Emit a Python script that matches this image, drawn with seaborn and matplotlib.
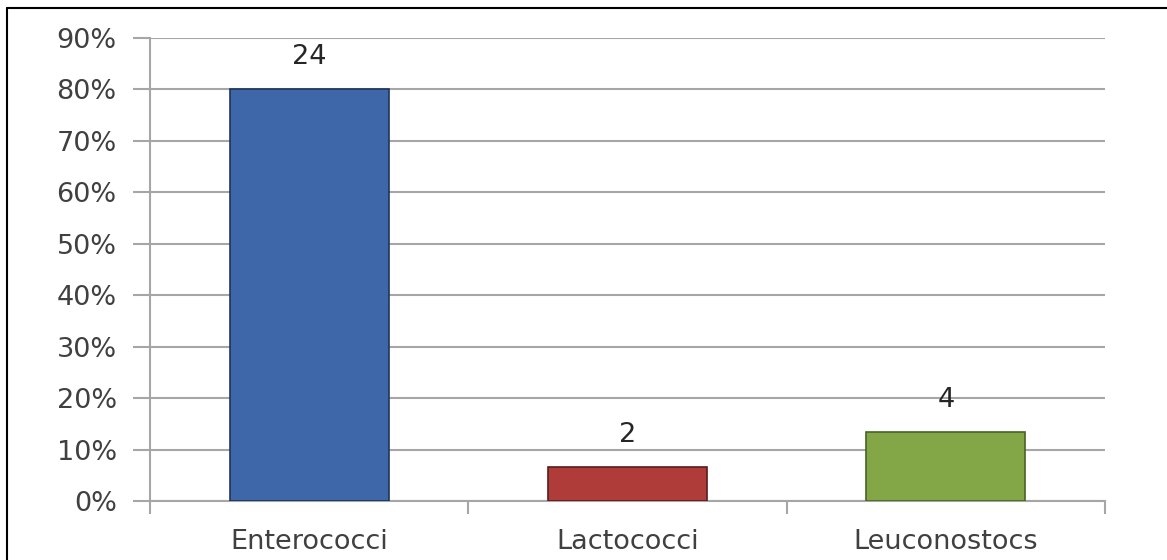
import matplotlib
matplotlib.use("Agg")
import matplotlib.pyplot as plt
import seaborn as sns
import pandas as pd
from matplotlib.ticker import FuncFormatter, FixedLocator
from matplotlib.lines import Line2D

# Isolate counts per genus
categories = ["Enterococci", "Lactococci", "Leuconostocs"]
counts = [24, 2, 4]
bar_colors = ["#3D67A8", "#B03C3A", "#83A646"]
edge_colors = ["#1F3558", "#5A1C1C", "#4A6226"]
yticks = [0, 10, 20, 30, 40, 50, 60, 70, 80, 90]

total = sum(counts)
df = pd.DataFrame({
    "genus": categories,
    "count": counts,
    "pct": [c / total * 100 for c in counts],
})

sns.set_theme(style="white")
plt.rcParams["font.family"] = ["DejaVu Sans"]

fig = plt.figure(figsize=(11.67, 5.6), dpi=100)
ax = fig.add_axes([150 / 1167, 1 - 501 / 560, 955 / 1167, 463 / 560])

sns.barplot(data=df, x="genus", y="pct", hue="genus", palette=bar_colors,
            saturation=1, width=0.5, legend=False, ax=ax, zorder=3)
for patch, ec in zip(ax.patches, edge_colors):
    patch.set_edgecolor(ec)
    patch.set_linewidth(1.2)

ax.set_xlim(-0.5, 2.5)
ax.set_ylim(0, 90)
ax.set_yticks(yticks)
ax.yaxis.set_major_formatter(FuncFormatter(lambda v, _: f"{v:.0f}%"))
ax.yaxis.grid(True, color="#A6A6A6", linewidth=1.5, zorder=0)
ax.xaxis.grid(False)
ax.set_xlabel("")
ax.set_ylabel("")

for side in ["top", "right"]:
    ax.spines[side].set_visible(False)
ax.spines["left"].set_color("#A6A6A6")
ax.spines["left"].set_linewidth(1.5)
ax.spines["bottom"].set_color("#A6A6A6")
ax.spines["bottom"].set_linewidth(1.5)

ax.tick_params(axis="y", which="major", left=True, length=12, width=1.5,
               color="#A6A6A6", labelsize=19.5, labelcolor="#404040", pad=12)
ax.tick_params(axis="x", which="major", bottom=False, length=0, labelsize=19.5,
               labelcolor="#404040", pad=20)
ax.xaxis.set_minor_locator(FixedLocator([-0.5, 0.5, 1.5, 2.5]))
ax.tick_params(axis="x", which="minor", bottom=True, length=9, width=1.5,
               color="#A6A6A6")

for i, (p, c) in enumerate(zip(df["pct"], df["count"])):
    ax.annotate(str(c), xy=(i, p), xytext=(0, 23), textcoords="offset points",
                ha="center", va="center", fontsize=19.5, color="#262626")

# outer frame
fig.add_artist(Line2D([7 / 1167, 7 / 1167], [0, 1 - 8 / 560], transform=fig.transFigure,
                      color="black", linewidth=1.5))
fig.add_artist(Line2D([7 / 1167, 1], [1 - 8 / 560, 1 - 8 / 560], transform=fig.transFigure,
                      color="black", linewidth=1.5))

fig.savefig("out.png", dpi=100)
